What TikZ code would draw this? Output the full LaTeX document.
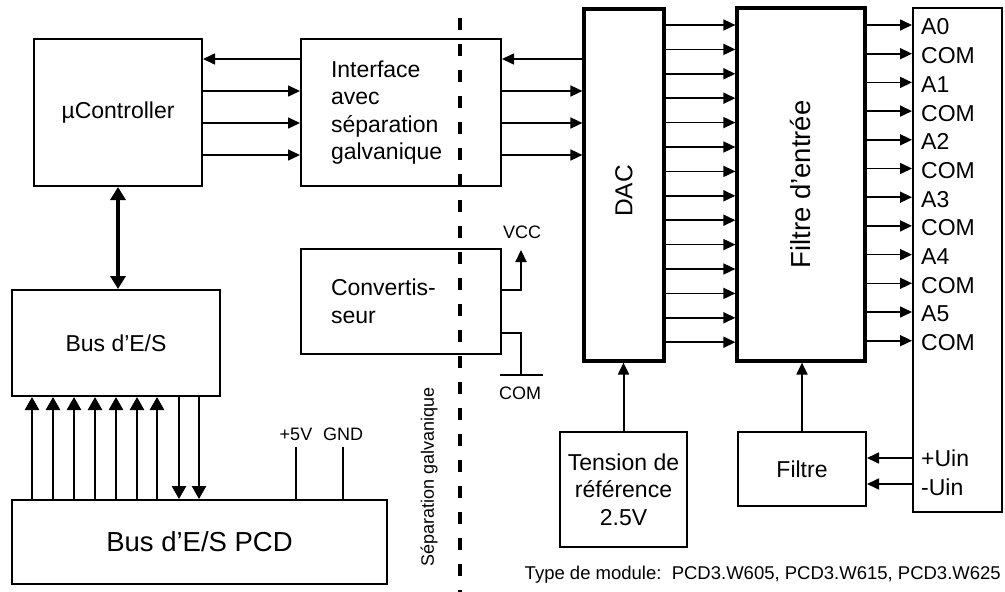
\documentclass[tikz,border=0pt]{standalone}
\usepackage{fontspec}
\setmainfont{Liberation Sans}
\usetikzlibrary{arrows.meta}
\newcommand{\setfs}[2]{\fontsize{#1}{#2}\selectfont}

\begin{document}
\begin{tikzpicture}[x=1pt, y=-1pt,
  block/.style={draw, line width=2pt, inner sep=0pt, align=center, font=\setfs{23}{27.6}},
  thickblock/.style={block, line width=3.2pt},
  leftblock/.style={block, align=left, text width=140pt, inner xsep=30pt},
  arr/.style={-{Triangle[length=12pt,width=11pt]}, line width=1.6pt},
  busarr/.style={-{Triangle[length=13pt,width=14pt]}, line width=2.6pt},
  lbl/.style={font=\setfs{23}{27.6}, inner sep=0pt},
  small/.style={font=\setfs{18}{21.6}, inner sep=0pt},
  sep/.style={line width=4.5pt, dash pattern=on 12pt off 14pt},
]
  \fill[white] (0,0) rectangle (1005,592);
  \useasboundingbox (0,0) rectangle (1005,592);

  \node[block, minimum width=168pt, minimum height=147pt] (uc) at (118,112.5) {µController};
  \node[leftblock, minimum height=147pt] (iface) at (401,112.5) {Interface\\avec\\séparation\\galvanique};
  \node[block, minimum width=208pt, minimum height=106pt] (bus) at (116,343) {Bus d’E/S};
  \node[block, minimum width=375pt, minimum height=84pt, font=\setfs{27.5}{33}] (pcd) at (199.5,542) {Bus d’E/S PCD};
  \node[leftblock, minimum height=105pt] (conv) at (401,301.5) {Convertis-\\seur};

  \node[thickblock, minimum width=80pt, minimum height=352pt] (dac) at (624,185) {};
  \node[rotate=90, font=\setfs{24.5}{29}] (daclbl) at (624,191) {DAC};
  \node[thickblock, minimum width=128pt, minimum height=353pt] (filt) at (801,184.5) {};
  \node[rotate=90, font=\setfs{27.5}{33}] (filtlbl) at (filt) {Filtre d’entrée};
  \node[block, minimum width=89pt, minimum height=504pt] (term) at (957.5,260) {};

  \node[block, minimum width=128pt, minimum height=74pt] (filtre) at (802,469) {Filtre};
  \node[block, minimum width=127pt, minimum height=115pt] (tref) at (623.5,489.5) {Tension de\\référence\\2.5V};

  \draw[sep] (460,18) -- (460,592);
  \node[small, rotate=90] (seplbl) at (429,477) {Séparation galvanique};

  % microcontroller <-> interface <-> DAC
  \draw[arr] (iface.west |- 0,59) -- (uc.east |- 0,59);
  \draw[arr] (dac.west |- 0,59) -- (iface.east |- 0,59);
  \foreach \y in {91,123,155} {
    \draw[arr] (uc.east |- 0,\y) -- (iface.west |- 0,\y);
    \draw[arr] (iface.east |- 0,\y) -- (dac.west |- 0,\y);
  }

  \foreach \i in {0,...,13} {
    \pgfmathsetmacro\y{25+24.4*\i}
    \draw[arr] (dac.east |- 0,\y) -- (filt.west |- 0,\y);
  }

  \foreach \n [count=\i from 0] in {A0,COM,A1,COM,A2,COM,A3,COM,A4,COM,A5,COM} {
    \pgfmathsetmacro\y{25+28.7*\i}
    \draw[arr] (filt.east |- 0,\y) -- (term.west |- 0,\y);
    \node[lbl, anchor=west] (pin\i) at (921,\y+2) {\n};
  }

  \node[lbl, anchor=west] (uplus) at (921,458) {+Uin};
  \node[lbl, anchor=west] (uminus) at (921,487) {-Uin};
  \draw[arr] (term.west |- uplus) -- (filtre.east |- uplus);
  \draw[arr] (term.west |- 0,484) -- (filtre.east |- 0,484);

  \draw[arr, line width=2pt] (tref.north) -- (tref.north |- dac.south);
  \draw[arr, line width=2pt] (filtre.north) -- (filtre.north |- filt.south);

  % converter outputs
  \node[small] (vcc) at (522,232) {VCC};
  \coordinate (vcctip) at (521,250);
  \draw[arr, line width=2.2pt] (conv.east |- 0,290) -| (vcctip);
  \coordinate (gnd) at (521,375);
  \draw[line width=1.6pt] (conv.east |- 0,333) -| (gnd);
  \draw[line width=1.6pt] ([xshift=-21pt]gnd) -- ([xshift=22pt]gnd);
  \node[small] (com) at (520,393) {COM};

  % I/O bus
  \draw[{Triangle[length=13pt,width=15pt]}-{Triangle[length=13pt,width=15pt]}, line width=3.5pt] (uc.south) -- (uc.south |- bus.north);
  \foreach \x in {32,53,74,95,116,137,157}
    \draw[busarr] (pcd.north -| \x,0) -- (bus.south -| \x,0);
  \foreach \x in {179,199}
    \draw[busarr] (bus.south -| \x,0) -- (pcd.north -| \x,0);

  \node[small] (p5) at (296,434) {+5V};
  \node[small] (gndlbl) at (343,434) {GND};
  \draw[line width=1.4pt] (296,447) -- (pcd.north -| p5);
  \draw[line width=1.4pt] (343,447) -- (pcd.north -| gndlbl);

  \node[small, anchor=east, font=\setfs{18.5}{22}] (typelbl) at (1001,575) {Type de module:\ \ PCD3.W605, PCD3.W615, PCD3.W625};
\end{tikzpicture}
\end{document}
